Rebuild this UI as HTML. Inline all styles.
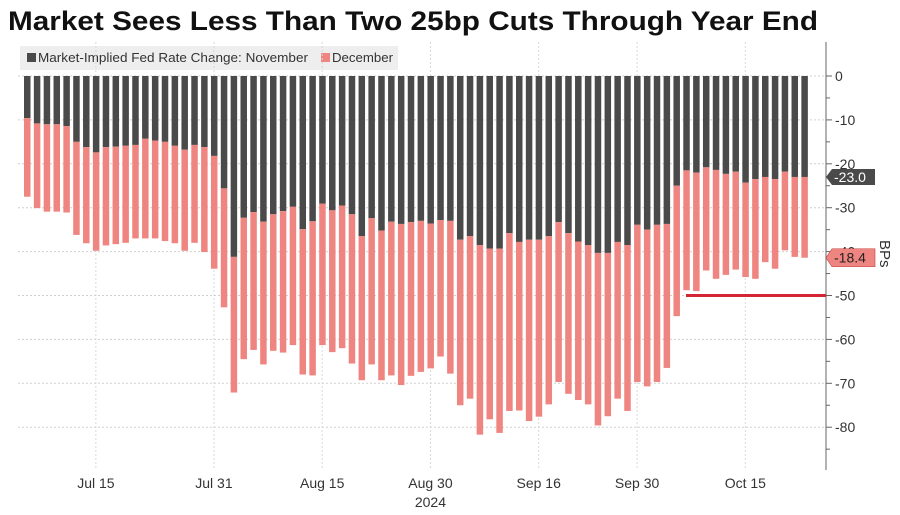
<!DOCTYPE html>
<html><head><meta charset="utf-8"><style>
body{margin:0;background:#fff;width:900px;height:510px;overflow:hidden;font-family:"Liberation Sans",sans-serif}
</style></head><body>
<svg id="chart" width="900" height="510" xmlns="http://www.w3.org/2000/svg">
<text x="8" y="30" font-size="27" font-weight="bold" fill="#111" textLength="810" lengthAdjust="spacingAndGlyphs">Market Sees Less Than Two 25bp Cuts Through Year End</text>
<rect x="20" y="46" width="378" height="24" fill="#eeeeee"/>
<rect x="27" y="53" width="9" height="9" fill="#4a4a4a"/>
<text x="38" y="62" font-size="12.5" fill="#333" textLength="270" lengthAdjust="spacingAndGlyphs">Market-Implied Fed Rate Change: November</text>
<rect x="321" y="53" width="9" height="9" fill="#ef8580"/>
<text x="332" y="62" font-size="12.5" fill="#333" textLength="61" lengthAdjust="spacingAndGlyphs">December</text>
<g id="grid"></g><g id="bars"></g><g id="axis"></g>
</svg>
<script>
const novValues=[-9.6,-10.8,-11.0,-11.0,-11.4,-15.0,-16.2,-17.4,-16.2,-16.1,-15.9,-15.7,-14.3,-14.7,-15.0,-15.9,-16.8,-15.7,-16.2,-18.2,-25.6,-41.2,-32.3,-31.0,-33.2,-31.5,-30.8,-29.8,-34.9,-33.1,-29.1,-30.6,-29.5,-31.5,-36.5,-32.4,-35.2,-33.2,-33.7,-33.3,-33.0,-33.6,-32.8,-33.0,-37.3,-36.5,-38.5,-39.3,-39.3,-35.8,-37.8,-37.3,-37.3,-36.5,-33.3,-35.8,-37.7,-38.5,-40.3,-40.3,-37.8,-38.5,-33.9,-35.0,-33.9,-33.7,-25.0,-21.5,-22.0,-20.8,-21.4,-22.3,-21.8,-24.3,-23.5,-23.0,-23.5,-21.8,-23.0,-23.0];
const decValues=[-27.5,-30.1,-30.9,-30.9,-31.1,-36.2,-38.1,-39.8,-38.6,-38.3,-38.0,-37.0,-37.0,-37.0,-37.6,-38.1,-39.8,-38.0,-40.1,-43.9,-52.7,-72.1,-64.5,-62.4,-65.7,-62.6,-63.0,-61.3,-68.0,-68.2,-61.3,-62.9,-62.0,-65.5,-69.3,-65.7,-69.3,-68.2,-70.4,-68.3,-67.4,-66.6,-63.9,-67.8,-75.0,-73.5,-81.7,-78.2,-81.3,-76.3,-76.2,-78.6,-77.6,-74.8,-69.7,-72.4,-73.8,-74.8,-79.6,-77.5,-73.5,-76.3,-69.7,-70.7,-69.7,-66.5,-54.7,-48.8,-49.0,-44.3,-46.2,-45.3,-44.1,-45.8,-46.2,-42.4,-43.9,-39.7,-41.2,-41.4];
const yTicks=[0,-10,-20,-30,-40,-50,-60,-70,-80];
const xLabels=["Jul 15","Jul 31","Aug 15","Aug 30","Sep 16","Sep 30","Oct 15"];
const xLabelIdx=[7,19,30,41,52,62,73];
const targetLevel=[-50];
const NS="http://www.w3.org/2000/svg";
const y=v=>76-v*4.39;
const x=i=>24+i*9.84;
function mk(tag,attrs,parent,txt){const e=document.createElementNS(NS,tag);for(const k in attrs)e.setAttribute(k,attrs[k]);if(txt!==undefined)e.textContent=txt;parent.appendChild(e);return e;}
const grid=document.getElementById('grid'),bars=document.getElementById('bars'),axis=document.getElementById('axis');
yTicks.forEach(t=>{
 const l=mk('line',{x1:18,x2:826,y1:y(t),y2:y(t),stroke:'#d0d0d0','stroke-dasharray':'2,2'},grid);
 
 
 const tk=mk('line',{x1:826,x2:832,y1:y(t),y2:y(t),stroke:'#666'},axis);
 
 
 const tx=mk('text',{x:835,y:y(t)+5,'font-size':14,fill:'#333'},axis,String(t));
 
 
 const mt=mk('line',{x1:826,x2:830,y1:y(t-5),y2:y(t-5),stroke:'#666'},axis);
 
 
});
xLabels.forEach((lab,k)=>{
 const cx=x(xLabelIdx[k])+3;
 const l=mk('line',{x1:cx,x2:cx,y1:42,y2:470,stroke:'#d8d8d8','stroke-dasharray':'2,2'},grid);
 
 
 const t=mk('text',{x:cx,y:488,'font-size':14,fill:'#333','text-anchor':'middle'},axis,lab);
 
 
});
const yr=mk('text',{x:x(41)+3,y:507,'font-size':14,fill:'#333','text-anchor':'middle'},axis,'2024');


const al=mk('line',{x1:826,x2:826,y1:42,y2:470,stroke:'#666'},axis);


novValues.forEach((v,i)=>{
 const d=decValues[i];
 const r=mk('rect',{x:x(i),y:y(0),width:6.5,height:y(v)-y(0),fill:'#4a4a4a'},bars);
 
 
 const r2=mk('rect',{x:x(i),y:y(v),width:6.5,height:y(d)-y(v),fill:'#ef8580'},bars);
 
 
});
const tl=mk('line',{x1:686,x2:826,y1:y(targetLevel[0]),y2:y(targetLevel[0]),stroke:'#d42535','stroke-width':3},axis);


const lastN=novValues[novValues.length-1],lastD=decValues[decValues.length-1];
const tag1=mk('path',{d:`M826 ${y(lastN)} l6 -8 h43 v16 h-43 z`,fill:'#4a4a4a'},axis);


const t1=mk('text',{x:834,y:y(lastN)+5,'font-size':14,fill:'#fff'},axis,lastN.toFixed(1));


const tag2=mk('path',{d:`M826 ${y(lastD)} l6 -9 h43 v18 h-43 z`,fill:'#ef8580',stroke:'#c04040','stroke-width':0.6},axis);


const t2=mk('text',{x:834,y:y(lastD)+5,'font-size':14,fill:'#222'},axis,(lastD-lastN).toFixed(1));


const bp=mk('text',{x:0,y:0,'font-size':15,fill:'#333',transform:'translate(880,240) rotate(90)'},axis,'BPs');


</script>
</body></html>
